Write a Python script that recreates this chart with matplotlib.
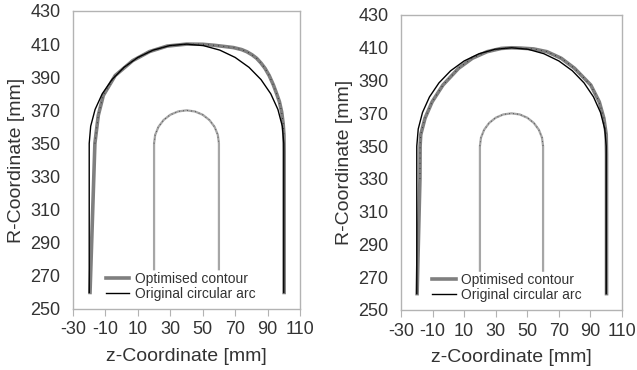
import matplotlib
matplotlib.use("Agg")
import matplotlib.pyplot as plt

plt.rcParams['font.family'] = ['Liberation Sans', 'DejaVu Sans']
plt.rcParams['axes.unicode_minus'] = False

# original circular arc (same in both panels)
orig_z = [-20, -20, -19.09, -16.38, -11.96, -5.96, 1.43, 10, 19.48, 29.58, 40,
          50.42, 60.52, 70, 78.57, 85.96, 91.96, 96.38, 99.09, 100, 100]
orig_r = [260, 350, 360.42, 370.52, 380, 388.57, 395.96, 401.96, 406.38, 409.09, 410,
          409.09, 406.38, 401.96, 395.96, 388.57, 380, 370.52, 360.42, 350, 260]

# inner contour
inner_z = [20, 20, 20.68, 22.68, 25.86, 30, 34.82, 40, 45.18, 50, 54.14, 57.32, 59.32, 60, 60]
inner_r = [274, 350, 355.18, 360, 364.14, 367.32, 369.32, 370, 369.32, 367.32, 364.14,
           360, 355.18, 350, 274]

# optimised contour, left panel
optA_z = [-19.5, -16.5, -14.4, -11.3, -4, 6.8, 17.2, 28, 40, 50, 57, 64, 69, 74, 77.2,
          80.5, 83.3, 86, 88.4, 91, 93.6, 95.6, 97.3, 98.7, 99.6, 100.1, 100.2, 100.2]
optA_r = [260, 350, 367, 379, 391, 400, 405.5, 408.8, 410, 409.9, 409.3, 408.5, 407.9,
          406.7, 405.4, 403.5, 401.4, 398.5, 395.4, 391, 385.3, 380, 375.2, 369, 362,
          355, 345, 260]

# optimised contour, right panel
optB_z = [-19.8, -18, -17.9, -17.5, -14.8, -10.3, -3.4, 6.5, 15.2, 24.5, 33.5, 40, 46,
          54, 62.5, 71.5, 79.9, 90.2, 95.6, 98.5, 100, 100.2, 100.2]
optB_r = [260, 330, 350, 357, 367, 377, 387.3, 397.5, 403.6, 407.6, 409.6, 410, 409.8,
          409.3, 407.6, 403.6, 397.5, 387.3, 377, 367, 357, 345, 260]

xticks = list(range(-30, 111, 20))
yticks = list(range(250, 431, 20))

fig = plt.figure(figsize=(6.37, 3.70), dpi=100)
ax1 = fig.add_axes([73/637, 1-309/370, 227/637, 298/370])
ax2 = fig.add_axes([401/637, 1-310/370, 221/637, 295/370])

for ax, oz, orr, leg_x in [(ax1, optA_z, optA_r, 0.144), (ax2, optB_z, optB_r, 0.140)]:
    ax.plot(inner_z, inner_r, color='#a6a6a6', lw=1.6, zorder=2)
    ax.plot(inner_z[1:-1], inner_r[1:-1], color='#404040', lw=0.8,
            ls=(0, (0.6, 3)), zorder=3)
    ax.plot(oz, orr, color='#7f7f7f', lw=2.6, label='Optimised contour', zorder=3)
    ax.plot(orig_z, orig_r, color='black', lw=1.0, label='Original circular arc', zorder=4)
    ax.plot(oz[1:-2], orr[1:-2], color='#202020', lw=0.8, ls=(0, (0.6, 4)), zorder=5)

    ax.set_xlim(-30, 110)
    ax.set_ylim(250, 430)
    ax.set_xticks(xticks)
    ax.set_yticks(yticks)
    for s in ax.spines.values():
        s.set_color('#b3b3b3')
        s.set_linewidth(1.0)
    ax.tick_params(axis='x', length=5, color='#b3b3b3', labelsize=13,
                   labelcolor='#333333', pad=4)
    ax.tick_params(axis='y', length=0, labelsize=13, labelcolor='#333333', pad=9)
    ax.set_xlabel('z-Coordinate [mm]', fontsize=14, color='#333333', labelpad=7)
    ax.set_ylabel('R-Coordinate [mm]', fontsize=14, color='#333333', labelpad=4)
    ax.legend(loc='center left', bbox_to_anchor=(leg_x, 0.076), frameon=False,
              fontsize=10, borderpad=0, borderaxespad=0, handlelength=1.7,
              handletextpad=0.4, labelspacing=0.05, labelcolor='#333333')

fig.savefig('out.png', dpi=100)
